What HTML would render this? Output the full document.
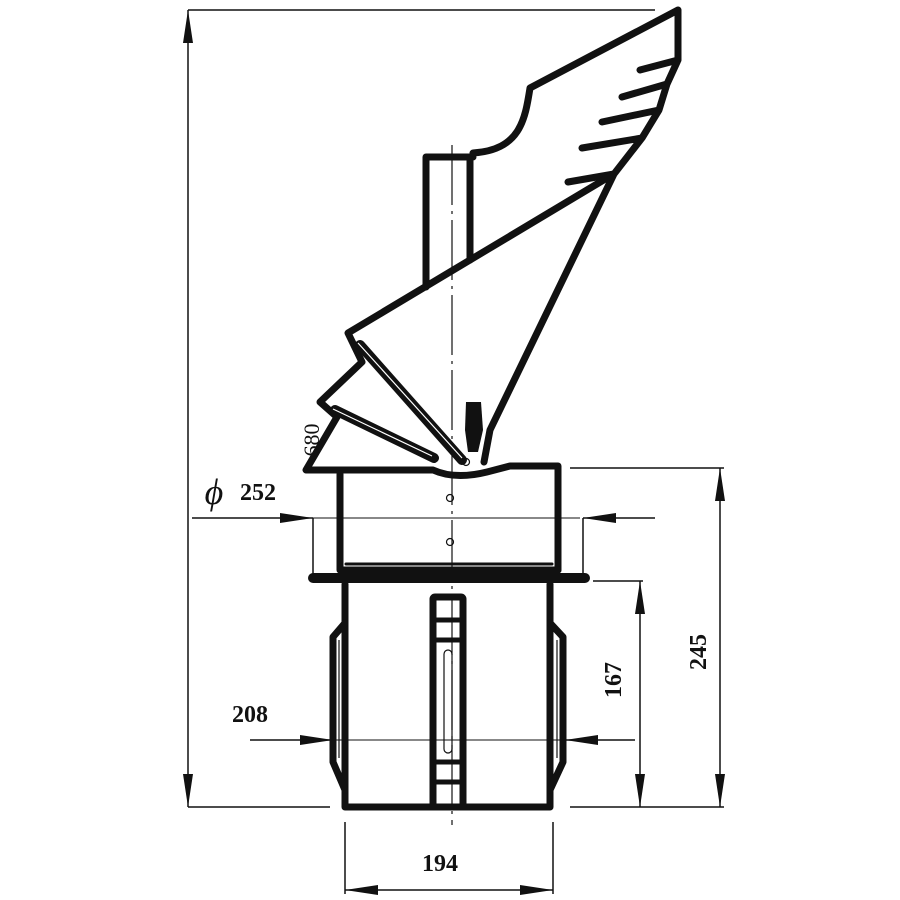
<!DOCTYPE html>
<html><head><style>html,body{margin:0;padding:0;background:#fff}svg{display:block}</style></head>
<body>
<svg width="900" height="900" viewBox="0 0 900 900" xmlns="http://www.w3.org/2000/svg">
<defs>
<marker id="a" markerWidth="34" markerHeight="12" refX="33" refY="6" orient="auto-start-reverse" markerUnits="userSpaceOnUse">
<path d="M0,1 L33,6 L0,11 Z" fill="#111"/></marker>
</defs>
<g stroke="#111" fill="none" stroke-width="1.5">
<line x1="188" y1="10" x2="188" y2="807" marker-start="url(#a)" marker-end="url(#a)"/>
<line x1="188" y1="10" x2="655" y2="10"/>
<line x1="188" y1="807" x2="330" y2="807"/>
<line x1="192" y1="518" x2="313" y2="518" marker-end="url(#a)"/>
<line x1="655" y1="518" x2="583" y2="518" marker-end="url(#a)"/>
<line x1="313" y1="518" x2="580" y2="518" stroke-width="1"/>
<line x1="313" y1="518" x2="313" y2="575"/>
<line x1="583" y1="518" x2="583" y2="575"/>
<line x1="570" y1="468" x2="724" y2="468"/>
<line x1="570" y1="807" x2="724" y2="807"/>
<line x1="720" y1="468" x2="720" y2="807" marker-start="url(#a)" marker-end="url(#a)"/>
<line x1="593" y1="581" x2="643" y2="581"/>
<line x1="640" y1="581" x2="640" y2="807" marker-start="url(#a)" marker-end="url(#a)"/>
<line x1="250" y1="740" x2="333" y2="740" marker-end="url(#a)"/>
<line x1="635" y1="740" x2="565" y2="740" marker-end="url(#a)"/>
<line x1="333" y1="740" x2="565" y2="740" stroke-width="1"/>
<line x1="345" y1="822" x2="345" y2="894"/>
<line x1="553" y1="822" x2="553" y2="894"/>
<line x1="345" y1="890" x2="553" y2="890" marker-start="url(#a)" marker-end="url(#a)"/>
<line x1="452" y1="145" x2="452" y2="825" stroke-width="1.2" stroke-dasharray="60,6,3,6"/>
</g>
<g stroke="#111" fill="none" stroke-width="7" stroke-linejoin="round" stroke-linecap="round">
<path d="M426,287 L426,157 L473,157 M470,157 L470,260"/>
<path d="M473,153 C520,150 525,120 530,88 L678,10 L678,60 L640,70 M678,60 L667,84 L622,97 M667,84 L659,110 L602,122 M659,110 L642,138 L582,148 M642,138 L614,174 L568,182 M614,174 L490,430 L484,462"/>
<path d="M612,175 L348,333 L362,362 L320,402 L337,417 L306,470 L433,470 Q455,480 487,472 L510,466 L558,466 L558,570"/>
<path d="M360,345 L462,460" stroke-width="10"/>
<path d="M335,410 L434,458" stroke-width="10"/>
<path d="M340,474 L340,570 L558,570"/>
<path d="M346,564 L552,564" stroke-width="3"/>
<path d="M313,578 L585,578" stroke-width="10"/>
<path d="M345,584 L345,807 L550,807 L550,584"/>
<path d="M345,623 L333,637 L333,762 L345,790 M550,623 L563,637 L563,762 L550,790"/>
<rect x="433" y="597" width="30" height="210" rx="2"/>
</g>
<g stroke="#fff" stroke-width="1.2" fill="none">
<path d="M358,343 L462,458 M333,409 L432,456"/>
</g>
<g stroke="#111" fill="none" stroke-width="1.2">
<line x1="339" y1="640" x2="339" y2="758"/><line x1="557" y1="640" x2="557" y2="758"/>
<rect x="444" y="650" width="8" height="103" rx="4"/>
<line x1="436" y1="620" x2="460" y2="620" stroke-width="5"/>
<line x1="436" y1="640" x2="460" y2="640" stroke-width="5"/>
<line x1="436" y1="762" x2="460" y2="762" stroke-width="5"/>
<line x1="436" y1="782" x2="460" y2="782" stroke-width="5"/>
<circle cx="450" cy="498" r="3.5"/><circle cx="450" cy="542" r="3.5"/>
<circle cx="466" cy="462" r="3.5"/>
</g>
<path d="M466,402 L481,402 L483,430 L478,452 L468,452 L465,430 Z" fill="#111"/>
<g font-family="'Liberation Serif',serif" font-weight="bold" fill="#111" text-anchor="middle">
<text x="214" y="504" font-size="36" font-weight="normal" font-style="italic">ϕ</text>
<text x="258" y="500" font-size="24">252</text>
<text x="250" y="722" font-size="24">208</text>
<text x="440" y="871" font-size="24">194</text>
<text transform="translate(621,680) rotate(-90)" font-size="24">167</text>
<text transform="translate(706,652) rotate(-90)" font-size="24">245</text>
<text transform="translate(319,440) rotate(-90)" font-size="22" font-weight="normal">680</text>
</g>
</svg>
</body></html>
